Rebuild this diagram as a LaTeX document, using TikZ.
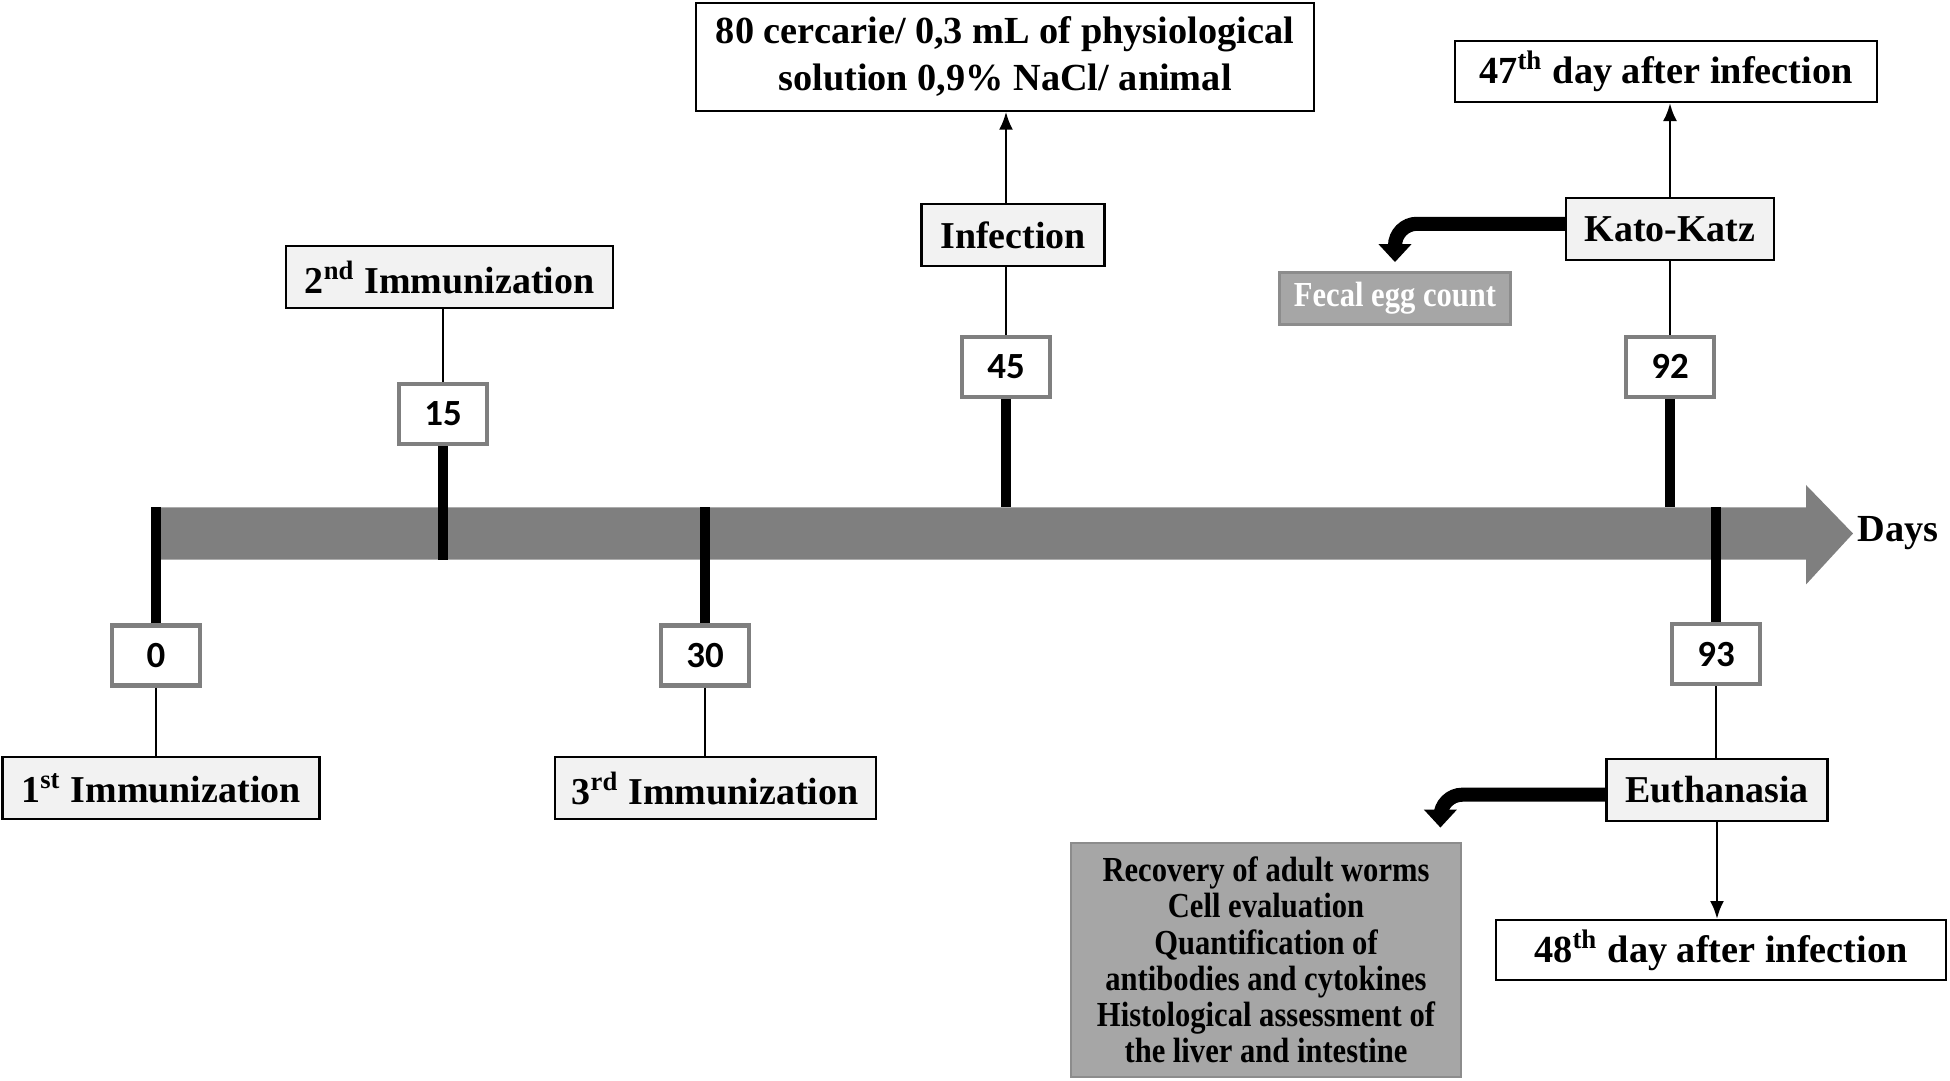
\documentclass[tikz,border=0pt]{standalone}
\usepackage{fontspec}
\setmainfont{Liberation Serif}
\newfontfamily\numfont{Carlito}
\newfontfamily\condfont{Liberation Serif}[FakeStretch=0.87]
\usepackage{tikz}
\usetikzlibrary{arrows.meta,positioning}
\usepackage{xcolor}
\definecolor{bargray}{RGB}{127,127,127}
\definecolor{boxgray}{RGB}{166,166,166}
\definecolor{edgegray}{RGB}{140,140,140}
\definecolor{lblfill}{RGB}{242,242,242}
\tikzstyle{numbox} = [rectangle, draw=bargray, line width=1.3pt, fill=white, minimum width=0.88cm, minimum height=0.6cm, inner sep=0pt, font=\fontsize{10.5}{12}\numfont\bfseries]
\tikzstyle{lblbox} = [rectangle, draw=black, line width=0.6pt, fill=lblfill, minimum height=0.62cm, inner sep=0pt, font=\fontsize{10.8}{13}\selectfont\bfseries]
\tikzstyle{notebox} = [rectangle, draw=black, line width=0.6pt, fill=white, inner sep=0pt, align=center, font=\fontsize{10.9}{13.2}\selectfont\bfseries]
\tikzstyle{graybox} = [rectangle, draw=edgegray, line width=0.8pt, fill=boxgray, inner sep=0pt, align=center, font=\fontsize{10}{10.3}\condfont\bfseries]
\tikzstyle{tick} = [line width=2.6pt, black]
\tikzstyle{link} = [line width=0.6pt, black]
\tikzstyle{arrow} = [line width=0.8pt, -{Latex[length=1.8mm,width=1.4mm]}]
\tikzstyle{bentarrow} = [line width=4pt, rounded corners=2.2mm, -{Triangle[length=1.8mm,width=3.2mm]}]

\begin{document}
\begin{tikzpicture}
\useasboundingbox (0,0) rectangle (19.5,-10.81);

% Timeline
\fill[bargray] (1.555,-5.074) -- (18.06,-5.074) -- (18.06,-4.850) -- (18.53,-5.335) -- (18.06,-5.845) -- (18.06,-5.596) -- (1.555,-5.596) -- cycle;
\coordinate (bartop) at (0,-5.074);
\coordinate (barbot) at (0,-5.596);
\node[anchor=west, inner sep=0.4mm, font=\fontsize{10.9}{13}\selectfont\bfseries] (days) at (18.53,-5.335) {Days};

% Day boxes
\node[numbox] (n0) at (1.56,-6.554) {0};
\node[numbox] (n15) at (4.43,-4.141) {15};
\node[numbox] (n30) at (7.05,-6.554) {30};
\node[numbox] (n45) at (10.06,-3.669) {45};
\node[numbox] (n92) at (16.70,-3.669) {92};
\node[numbox] (n93) at (17.16,-6.541) {93};

% Events
\node[lblbox, minimum width=3.17cm] (imm1) at (1.61,-7.884) {1\textsuperscript{st} Immunization};
\node[lblbox, minimum width=3.27cm] (imm2) at (4.496,-2.773) {2\textsuperscript{nd} Immunization};
\node[lblbox, minimum width=3.21cm] (imm3) at (7.151,-7.884) {3\textsuperscript{rd} Immunization};
\node[lblbox, minimum width=1.83cm] (infect) at (10.13,-2.35) {Infection};
\node[lblbox, minimum width=2.08cm] (kato) at (16.70,-2.288) {Kato-Katz};
\node[lblbox, minimum width=2.21cm] (euth) at (17.17,-7.897) {Euthanasia};

% Details
\node[notebox, minimum width=6.18cm, minimum height=1.08cm] (cerc) at (10.05,-0.566) {80 cercarie/ 0,3 mL of physiological\\solution 0,9\% NaCl/ animal};
\node[notebox, minimum width=4.22cm, minimum height=0.61cm] (day47) at (16.66,-0.715) {47\textsuperscript{th} day after infection};
\node[notebox, minimum width=4.5cm, minimum height=0.6cm] (day48) at (17.21,-9.501) {48\textsuperscript{th} day after infection};
\node[graybox, minimum width=2.31cm, minimum height=0.52cm, text=white] (fecal) at (13.95,-2.985) {Fecal egg count};
\node[graybox, minimum width=3.9cm, minimum height=2.34cm] (recov) at (12.66,-9.6) {Recovery of adult worms\\Cell evaluation\\Quantification of\\antibodies and cytokines\\Histological assessment of\\the liver and intestine};

% Ticks on the timeline
\draw[tick] (n0.north) -- (n0.north |- bartop);
\draw[tick] (n15.south) -- (n15.south |- barbot);
\draw[tick] (n30.north) -- (n30.north |- bartop);
\draw[tick] (n45.south) -- (n45.south |- bartop);
\draw[tick] (n92.south) -- (n92.south |- bartop);
\draw[tick] (n93.north) -- (n93.north |- bartop);

% Links to events
\draw[link] (n0.south) -- (n0.south |- imm1.north);
\draw[link] (n15.north) -- (n15.north |- imm2.south);
\draw[link] (n30.south) -- (n30.south |- imm3.north);
\draw[link] (n45.north) -- (n45.north |- infect.south);
\draw[link] (n92.north) -- (n92.north |- kato.south);
\draw[link] (n93.south) -- (n93.south |- euth.north);

% Arrows
\draw[arrow] (n45.north |- infect.north) -- (n45.north |- cerc.south);
\draw[arrow] (kato.north) -- (kato.north |- day47.south);
\draw[arrow] (euth.south) -- (euth.south |- day48.north);
\draw[bentarrow, shorten >=0.9mm] ([yshift=0.5mm]kato.west) -| (fecal.north);
\draw[bentarrow, shorten >=1.4mm] ([yshift=-0.5mm]euth.west) -| ([xshift=-2.2mm]recov.north east);
\end{tikzpicture}
\end{document}
